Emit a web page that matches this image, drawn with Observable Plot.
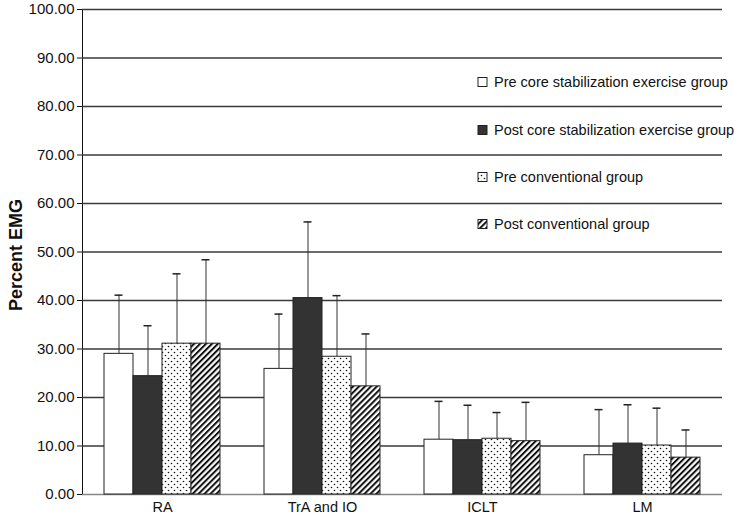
<!DOCTYPE html>
<html>
<head>
<meta charset="utf-8">
<script src="https://cdn.jsdelivr.net/npm/d3@7"></script>
<script src="https://cdn.jsdelivr.net/npm/@observablehq/plot@0.6"></script>
<style>
  html, body { margin: 0; padding: 0; background: #fff; }
  #chart { position: relative; width: 734px; height: 518px; }
  svg { font-family: "Liberation Sans", Arial, sans-serif; }
</style>
</head>
<body>
<div id="chart"></div>
<script>
// Categories and series
const muscles = ["RA", "TrA and IO", "ICLT", "LM"];
const groups = [
  "Pre core stabilization exercise group",
  "Post core stabilization exercise group",
  "Pre conventional group",
  "Post conventional group"
];
// Means (percent EMG), per muscle
const preCore  = [29.0, 25.9, 11.3, 8.1];
const postCore = [24.4, 40.5, 11.2, 10.5];
const preConv  = [31.1, 28.4, 11.5, 10.1];
const postConv = [31.1, 22.3, 11.0, 7.6];
// Standard deviations (upper error bars)
const preCoreSD  = [12.1, 11.3, 7.9, 9.4];
const postCoreSD = [10.4, 15.7, 7.2, 8.0];
const preConvSD  = [14.4, 12.6, 5.4, 7.7];
const postConvSD = [17.3, 10.8, 8.0, 5.7];
// Y ticks
const yTicks = [0, 10, 20, 30, 40, 50, 60, 70, 80, 90, 100];

const meansBySeries = [preCore, postCore, preConv, postConv];
const sdBySeries = [preCoreSD, postCoreSD, preConvSD, postConvSD];
const fills = ["white", "#333333", "url(#dots)", "url(#hatch)"];

const rows = [];
muscles.forEach((m, i) => {
  groups.forEach((g, j) => {
    rows.push({muscle: m, group: g, mean: meansBySeries[j][i], top: meansBySeries[j][i] + sdBySeries[j][i]});
  });
});

const chart = Plot.plot({
  width: 734,
  height: 518,
  marginLeft: 80,
  marginRight: 11,
  marginTop: 9,
  marginBottom: 24,
  style: {fontFamily: "'Liberation Sans', Arial, sans-serif", fontSize: "14.5px", color: "#111", background: "white"},
  facet: {data: rows, x: "muscle"},
  fx: {domain: muscles, padding: 0, label: null, tickSize: 0, tickPadding: 7},
  x: {domain: groups, paddingInner: 0, paddingOuter: 0.74, axis: null},
  y: {domain: [0, 100], ticks: yTicks, tickFormat: d3.format(".2f"), tickSize: 5, tickPadding: 3, label: null, line: true},
  color: {domain: groups, range: fills},
  marks: [
    Plot.ruleY(yTicks.filter(d => d > 0), {stroke: "#3a3a3a", strokeWidth: 1.3}),
    Plot.ruleY([0], {stroke: "#888", strokeWidth: 1.5}),
    Plot.ruleX(rows, {x: "group", y1: "mean", y2: "top", stroke: "#333", strokeWidth: 1}),
    Plot.tickY(rows, {x: "group", y: "top", stroke: "#222", strokeWidth: 1.5, insetLeft: 10.5, insetRight: 10.5}),
    Plot.barY(rows, {x: "group", y: "mean", fill: "group", stroke: "#222", strokeWidth: 1})
  ]
});

const svg = d3.select(chart.tagName === "svg" ? chart : chart.querySelector("svg"));
// y tick labels slightly larger
svg.selectAll("g[aria-label^='y-axis'] text").attr("font-size", 15);

const defs = svg.insert("defs", ":first-child");
const dots = defs.append("pattern").attr("id", "dots").attr("patternUnits", "userSpaceOnUse")
  .attr("width", 6).attr("height", 6);
dots.append("rect").attr("width", 6).attr("height", 6).attr("fill", "white");
dots.append("circle").attr("cx", 1.5).attr("cy", 1.5).attr("r", 0.8).attr("fill", "#111");
dots.append("circle").attr("cx", 4.5).attr("cy", 4.5).attr("r", 0.8).attr("fill", "#111");
const hatch = defs.append("pattern").attr("id", "hatch").attr("patternUnits", "userSpaceOnUse")
  .attr("width", 4.2).attr("height", 4.2).attr("patternTransform", "rotate(45)");
hatch.append("rect").attr("width", 4.2).attr("height", 4.2).attr("fill", "white");
hatch.append("line").attr("x1", 1).attr("y1", 0).attr("x2", 1).attr("y2", 4.2)
  .attr("stroke", "#111").attr("stroke-width", 2);

// Y axis title
svg.append("text")
  .attr("transform", "translate(22,255) rotate(-90)")
  .attr("text-anchor", "middle")
  .attr("font-size", 18)
  .attr("font-weight", "bold")
  .attr("fill", "#111")
  .text("Percent EMG");

// Legend (inside plot area, upper right)
const legendY = [82, 130, 177, 224];
const lg = svg.append("g").attr("font-size", 14.5).attr("text-anchor", "start");
groups.forEach((g, j) => {
  lg.append("rect").attr("x", 478).attr("y", legendY[j] - 4.5).attr("width", 9).attr("height", 9)
    .attr("fill", fills[j]).attr("stroke", "#222").attr("stroke-width", 1);
  lg.append("text").attr("x", 494).attr("y", legendY[j]).attr("dy", "0.35em").attr("fill", "#111").text(g);
});

document.getElementById("chart").appendChild(chart);
</script>
</body>
</html>
